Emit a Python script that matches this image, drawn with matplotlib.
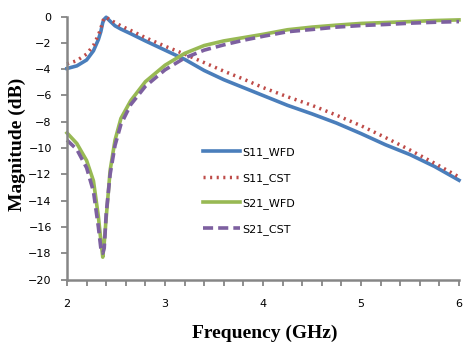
import matplotlib
matplotlib.use('Agg')
import matplotlib.pyplot as plt
from matplotlib.ticker import MultipleLocator

# data
freq = [2.0, 2.1, 2.2, 2.27, 2.32, 2.345, 2.365, 2.38, 2.40, 2.44, 2.49, 2.55, 2.65,
        2.8, 3.0, 3.2, 3.4, 3.6, 3.8, 4.0, 4.25, 4.5, 4.75, 5.0, 5.25, 5.5, 5.75, 6.0]
s11_wfd = [-3.95, -3.75, -3.3, -2.6, -1.75, -1.15, -0.45, -0.2, -0.05, -0.35, -0.7, -0.95, -1.3,
           -1.85, -2.55, -3.25, -4.1, -4.8, -5.4, -6.0, -6.75, -7.4, -8.1, -8.9, -9.75, -10.5, -11.4, -12.45]
s11_cst = [-3.6, -3.35, -2.85, -2.2, -1.4, -0.9, -0.35, -0.1, -0.05, -0.25, -0.45, -0.7, -1.05,
           -1.6, -2.25, -2.85, -3.5, -4.15, -4.75, -5.4, -6.1, -6.75, -7.5, -8.3, -9.2, -10.15, -11.15, -12.2]
s21_wfd = [-8.85, -9.65, -10.95, -12.5, -15.2, -17.0, -18.3, -17.2, -15.3, -11.7, -9.4, -7.75, -6.4,
           -4.95, -3.7, -2.8, -2.2, -1.85, -1.6, -1.35, -1.0, -0.8, -0.65, -0.52, -0.45, -0.38, -0.3, -0.25]
s21_cst = [-9.4, -10.1, -11.5, -13.3, -16.0, -17.6, -18.0, -17.6, -15.0, -12.0, -9.8, -8.2, -6.7,
           -5.3, -4.05, -3.15, -2.55, -2.15, -1.8, -1.5, -1.15, -0.98, -0.8, -0.68, -0.6, -0.5, -0.43, -0.38]
labels = ['S11_WFD', 'S11_CST', 'S21_WFD', 'S21_CST']

W, H = 473, 347
fig = plt.figure(figsize=(W / 100, H / 100), dpi=100)
ax = fig.add_axes([67 / W, 1 - 279.5 / H, (459 - 67) / W, (279.5 - 16.6) / H])

ax.plot(freq, s11_wfd, color='#4A7EBB', lw=2.6, label=labels[0], clip_on=False)
ax.plot(freq, s11_cst, color='#BE4B48', lw=2.5, linestyle=(0, (0.6, 1.3)), label=labels[1], clip_on=False)
ax.plot(freq, s21_wfd, color='#98B954', lw=2.6, label=labels[2], clip_on=False)
ax.plot(freq, s21_cst, color='#7D60A0', lw=2.6, linestyle=(0, (2.8, 1.4)), label=labels[3], clip_on=False)

ax.set_xlim(2, 6)
ax.set_ylim(-20, 0)
ax.xaxis.set_major_locator(MultipleLocator(1))
ax.xaxis.set_minor_locator(MultipleLocator(0.2))
ax.yaxis.set_major_locator(MultipleLocator(2))

for s in ['top', 'right']:
    ax.spines[s].set_visible(False)
for s in ['left', 'bottom']:
    ax.spines[s].set_color('#868686')
    ax.spines[s].set_linewidth(1.8)
ax.tick_params(which='both', direction='out', color='#868686', width=1.3, length=4,
               labelsize=8, colors='#868686', labelcolor='black')
ax.tick_params(axis='x', which='major', pad=10)
ax.tick_params(axis='y', pad=7)

ax.set_xlabel('Frequency (GHz)', fontsize=14, fontweight='bold', family='Liberation Serif',
              va='center')
ax.set_ylabel('Magnitude (dB)', fontsize=14, fontweight='bold', family='Liberation Serif',
              va='center')
ax.xaxis.set_label_coords(264.5 / W, 1 - 333 / H, transform=fig.transFigure)
ax.yaxis.set_label_coords(17 / W, 1 - 144.5 / H, transform=fig.transFigure)

leg = ax.legend(loc='upper left', bbox_to_anchor=(203 / W, 1 - 147 / H),
                bbox_transform=fig.transFigure, frameon=False, fontsize=8,
                handlelength=3.3, handletextpad=0.2, labelspacing=1.33,
                borderpad=0, borderaxespad=0)

fig.savefig('out.png', dpi=100)
